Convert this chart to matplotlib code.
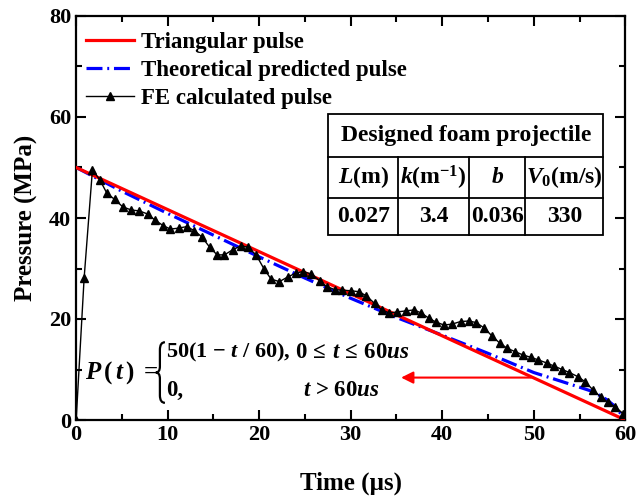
import matplotlib
matplotlib.use("Agg")
import matplotlib.pyplot as plt
from matplotlib.path import Path
from matplotlib.patches import PathPatch
import numpy as np

plt.rcParams['font.family'] = ['Liberation Serif', 'DejaVu Serif']
plt.rcParams['font.weight'] = 'bold'
plt.rcParams['axes.labelweight'] = 'bold'
plt.rcParams['mathtext.fontset'] = 'custom'
plt.rcParams['mathtext.rm'] = 'Liberation Serif:bold'
plt.rcParams['mathtext.bf'] = 'Liberation Serif:bold'
plt.rcParams['mathtext.it'] = 'Liberation Serif:italic:bold'

# triangular pulse
tri_t = [0, 60]
tri_p = [50, 0]

# theoretical predicted pulse
theo_t = [0, 5, 10, 15, 20, 25, 30, 35, 40, 45, 50, 55, 56.5, 58, 59, 60]
theo_p = [50, 45.3, 40.9, 36.6, 32.3, 28.1, 24.1, 20.3, 16.8, 13.2, 9.4, 6.5, 5.6, 4.0, 2.5, 0]

# FE calculated pulse
fe_t = [0, 0.87, 1.78, 2.6, 3.36, 4.19, 5.1, 6.0, 6.9, 7.8, 8.6, 9.5, 10.3, 11.2, 12.1,
        12.9, 13.7, 14.6, 15.4, 16.2, 17.1, 18.0, 18.8, 19.7, 20.5, 21.3, 22.2, 23.1,
        24.0, 24.8, 25.7, 26.6, 27.4, 28.3, 29.1, 30.0, 30.9, 31.7, 32.6, 33.4, 34.2,
        35.1, 36.0, 36.9, 37.7, 38.5, 39.3, 40.2, 41.1, 42.0, 42.9, 43.7, 44.6, 45.4,
        46.3, 47.1, 48.0, 48.8, 49.7, 50.5, 51.4, 52.2, 53.1, 53.9, 54.8, 55.6, 56.5,
        57.3, 58.1, 58.9, 59.8]
fe_p = [0, 28.1, 49.6, 47.5, 44.9, 43.7, 42.2, 41.6, 41.4, 40.8, 39.6, 38.5, 37.8, 38.0,
        38.3, 37.5, 36.3, 34.2, 32.7, 32.7, 33.7, 34.5, 34.2, 32.6, 30.0, 27.9, 27.4,
        28.3, 29.1, 29.4, 28.9, 27.6, 26.4, 25.8, 25.7, 25.6, 25.4, 24.6, 23.1, 21.8,
        21.2, 21.4, 21.6, 21.8, 21.2, 20.2, 19.4, 18.8, 19.0, 19.5, 19.6, 19.3, 18.2,
        16.7, 15.2, 14.2, 13.5, 12.9, 12.4, 11.9, 11.3, 10.7, 10.0, 9.4, 8.6, 7.6, 5.9,
        4.6, 3.5, 2.6, 1.2]

# table
table_title = "Designed foam projectile"
table_heads = [r"$L$(m)", r"$k$(m$^{\mathregular{-1}}$)", r"$b$", r"$V_0$(m/s)"]
table_vals = ["0.027", "3.4", "0.036", "330"]

fig = plt.figure(figsize=(6.4, 5), dpi=100)
ax = fig.add_axes([0.119, 0.16, 0.858, 0.808])

ax.plot(tri_t, tri_p, color='red', lw=2.3, label='Triangular pulse', zorder=3)
ax.plot(theo_t, theo_p, color='blue', lw=2.3, linestyle=(0, (5, 1.5, 0.6, 1.5)),
        label='Theoretical predicted pulse', zorder=2)
ax.plot(fe_t, fe_p, color='black', lw=1.0, marker='^', ms=5.5,
        label='FE calculated pulse', zorder=4)

ax.set_xlim(0, 60)
ax.set_ylim(0, 80)
ax.set_xticks(np.arange(0, 61, 10))
ax.set_xticks(np.arange(0, 61, 5), minor=True)
ax.set_yticks(np.arange(0, 81, 20))
ax.set_yticks(np.arange(0, 81, 10), minor=True)
ax.tick_params(which='both', direction='in', top=True, right=True, width=1.5,
               labelsize=16)
ax.tick_params(which='major', length=7)
ax.tick_params(which='minor', length=4)
for s in ax.spines.values():
    s.set_linewidth(1.6)
ax.set_xlabel('Time (µs)', fontsize=18, labelpad=19)
ax.set_ylabel('Pressure (MPa)', fontsize=18, labelpad=8)

ax.legend(loc='upper left', bbox_to_anchor=(-0.012, 1.0), frameon=False,
          fontsize=16.5, handlelength=2.1, labelspacing=0.3, borderaxespad=0.3,
          handletextpad=0.3)

# table drawn in axes fraction
xs = [0.459, 0.5865, 0.716, 0.818, 0.96]
ys = [0.757, 0.651, 0.5495, 0.458]
tr = ax.transAxes
ax.add_patch(plt.Rectangle((xs[0], ys[3]), xs[4] - xs[0], ys[0] - ys[3], fill=False,
                           lw=1.3, transform=tr, zorder=5))
ax.add_patch(plt.Rectangle((xs[0], ys[3]), xs[4] - xs[0], ys[0] - ys[3], facecolor='white',
                           lw=0, transform=tr, zorder=4.5))
for yy in ys[1:3]:
    ax.plot([xs[0], xs[4]], [yy, yy], color='black', lw=1.3, transform=tr, zorder=5)
for xx in xs[1:4]:
    ax.plot([xx, xx], [ys[1], ys[3]], color='black', lw=1.3, transform=tr, zorder=5)
ax.text((xs[0] + xs[4]) / 2, (ys[0] + ys[1]) / 2, table_title, transform=tr,
        ha='center', va='center', fontsize=17, zorder=6)
for i in range(4):
    cx = (xs[i] + xs[i + 1]) / 2
    ax.text(cx, (ys[1] + ys[2]) / 2, table_heads[i], transform=tr, ha='center',
            va='center', fontsize=17, zorder=6)
    ax.text(cx, (ys[2] + ys[3]) / 2, table_vals[i], transform=tr, ha='center',
            va='center', fontsize=17, zorder=6)

# formula
ax.text(1.0, 9.3, r"$P\,(\,t\,)\ =$", fontsize=18, va='center', ha='left')
# thin curly brace
x0, xm, x1 = 8.7, 9.15, 9.7
yt, ymid, yb = 15.4, 9.4, 3.4
verts = [(x1, yt), (xm, yt), (xm, yt - 1.5), (xm, ymid + 1.2), (xm, ymid), (x0, ymid),
         (xm, ymid), (xm, ymid - 1.2), (xm, yb + 1.5), (xm, yb), (x1, yb)]
codes = [Path.MOVETO, Path.CURVE3, Path.CURVE3, Path.LINETO, Path.CURVE3, Path.CURVE3,
         Path.CURVE3, Path.CURVE3, Path.LINETO, Path.CURVE3, Path.CURVE3]
ax.add_patch(PathPatch(Path(verts, codes), fill=False, lw=1.6, color='black'))
ax.text(9.8, 13.3, r"50(1 $-$ $t$ / 60),", fontsize=16, va='center', ha='left')
ax.text(23.9, 13.3, r"0$\,\leq\,t\,\leq\,$60$us$", fontsize=16.5, va='center', ha='left')
ax.text(9.8, 5.9, "0,", fontsize=16.5, va='center', ha='left')
ax.text(24.8, 5.9, r"$t$ > 60$us$", fontsize=16.5, va='center', ha='left')
ax.annotate('', xy=(35.2, 8.4), xytext=(50, 8.4),
            arrowprops=dict(arrowstyle='-|>', color='red', lw=1.5, mutation_scale=18))

fig.savefig('out.png', dpi=100)
